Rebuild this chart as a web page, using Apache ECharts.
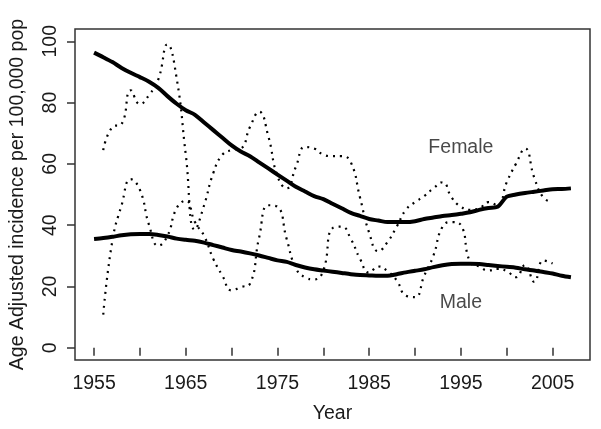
<!DOCTYPE html>
<html>
<head>
<meta charset="utf-8">
<script src="https://cdn.jsdelivr.net/npm/echarts@6/dist/echarts.min.js"></script>
<style>
html,body{margin:0;padding:0;background:#fff;}
#chart{width:601px;height:429px;}
</style>
</head>
<body>
<div id="chart"></div>
<script>
// ---- Data ----
const smoothYears = [1955,1956,1957,1958,1959,1960,1961,1962,1963,1964,1965,1966,1967,1968,1969,1970,1971,1972,1973,1974,1975,1976,1977,1978,1979,1980,1981,1982,1983,1984,1985,1986,1987,1988,1989,1990,1991,1992,1993,1994,1995,1996,1997,1998,1999,2000,2001,2002,2003,2004,2005,2006,2007];
const femaleSmooth = [96.3,94.8,93.2,91.3,89.7,88.3,86.8,84.8,82.1,79.6,77.5,76,73.5,71,68.5,66,64,62.5,60.5,58.5,56.5,54.5,52.5,51,49.5,48.5,47,45.5,44,43,42,41.5,41,41,41,41.3,42,42.5,43,43.3,43.7,44.2,45,45.6,46,49.3,50,50.5,50.9,51.3,51.7,51.8,52];
const maleSmooth = [35.5,35.8,36.2,36.7,37,37.1,37.1,36.8,36.3,35.6,35.2,34.9,34.3,33.5,32.7,31.9,31.4,30.8,30.1,29.3,28.5,28,27,26.2,25.6,25.2,24.8,24.4,24,23.7,23.6,23.5,23.5,24,24.6,25.1,25.6,26.3,26.9,27.3,27.4,27.4,27.3,27,26.7,26.4,26.1,25.6,25.2,24.7,24.2,23.5,23];

const rawYears = [1956,1957,1958,1959,1960,1961,1962,1963,1964,1965,1966,1967,1968,1969,1970,1971,1972,1973,1974,1975,1976,1977,1978,1979,1980,1981,1982,1983,1984,1985,1986,1987,1988,1989,1990,1991,1992,1993,1994,1995,1996,1997,1998,1999,2000,2001,2002,2003,2004,2005];
const femaleRaw = [64.5,72,73,84,79.5,82.5,87.5,99,88,63,38.5,46.5,57,63,64.5,65,72,77,69,56,52,59,65.5,65,63,62.5,62.5,60.5,49,37.5,31.5,34.5,39.5,45,47.5,49.5,52,54,49,46,45,45.5,47.5,46.5,54,60,65,55.5,49,47.5];
const maleRaw = [10.8,35,46.5,55,51.5,40,33.3,36.5,45.5,48,41,36.5,29,23.5,18.7,19.8,20.9,36,46.5,46,35.5,26,23,22.3,25.2,39,39.5,35.5,29,24.5,26.5,25,22,17,16.5,23.5,30,39.5,41,40,28,26.5,25.2,25.7,25,23,27,21.5,28.5,27.5];

const xTicks = [1955,1960,1965,1970,1975,1980,1985,1990,1995,2000,2005];
const xTickLabels = [1955,1965,1975,1985,1995,2005];
const yTicks = [0,20,40,60,80,100];

const seriesLabels = ['Female','Male'];
const labelAnchors = [[1995,65.4],[1995,14.6]];

const xTitle = 'Year';
const yTitle = 'Age Adjusted incidence per 100,000 pop';

// ---- Chart ----
const FONT = '"Liberation Sans", Arial, sans-serif';
const FS = 19.5;
const pair = (xs, ys) => xs.map((x, i) => [x, ys[i]]);

const chart = echarts.init(document.getElementById('chart'), null, {renderer:'canvas'});
chart.setOption({
  animation:false,
  backgroundColor:'#fff',
  grid:{left:70,right:11,top:29,bottom:67,show:true,borderColor:'#333',borderWidth:1.5,backgroundColor:'transparent'},
  xAxis:{
    type:'value', min:1952.92, max:2009.08,
    axisLine:{show:false},
    splitLine:{show:false},
    axisTick:{show:true,length:8,inside:false,customValues:xTicks,lineStyle:{color:'#333',width:1.5}},
    axisLabel:{customValues:xTickLabels,fontSize:FS,color:'#1a1a1a',fontFamily:FONT,margin:14,formatter:v=>String(v)},
    name:xTitle, nameLocation:'middle', nameGap:44,
    nameTextStyle:{fontSize:FS,color:'#1a1a1a',fontFamily:FONT}
  },
  yAxis:{
    type:'value', min:-4, max:104,
    axisLine:{show:false},
    splitLine:{show:false},
    axisTick:{show:true,length:8,inside:false,customValues:yTicks,lineStyle:{color:'#333',width:1.5}},
    axisLabel:{customValues:yTicks,fontSize:FS,color:'#1a1a1a',fontFamily:FONT,rotate:90,margin:14,formatter:v=>String(v)},
    name:yTitle, nameLocation:'middle', nameGap:47, nameRotate:90,
    nameTextStyle:{fontSize:FS,color:'#1a1a1a',fontFamily:FONT}
  },
  series:[
    {type:'line',data:pair(rawYears,femaleRaw),showSymbol:false,smooth:0.5,
     lineStyle:{color:'#000',width:2.2,type:[2,5]}},
    {type:'line',data:pair(rawYears,maleRaw),showSymbol:false,smooth:0.5,
     lineStyle:{color:'#000',width:2.2,type:[2,5]}},
    {type:'line',data:pair(smoothYears,femaleSmooth),showSymbol:false,smooth:0.3,
     lineStyle:{color:'#000',width:4}},
    {type:'line',data:pair(smoothYears,maleSmooth),showSymbol:false,smooth:0.3,
     lineStyle:{color:'#000',width:4}},
    {type:'scatter',symbolSize:0,silent:true,
     data:labelAnchors.map((p,i)=>({value:p,name:seriesLabels[i]})),
     label:{show:true,position:'inside',formatter:p=>p.name,fontSize:FS,color:'#1a1a1a',fontFamily:FONT}}
  ]
});
</script>
</body>
</html>
